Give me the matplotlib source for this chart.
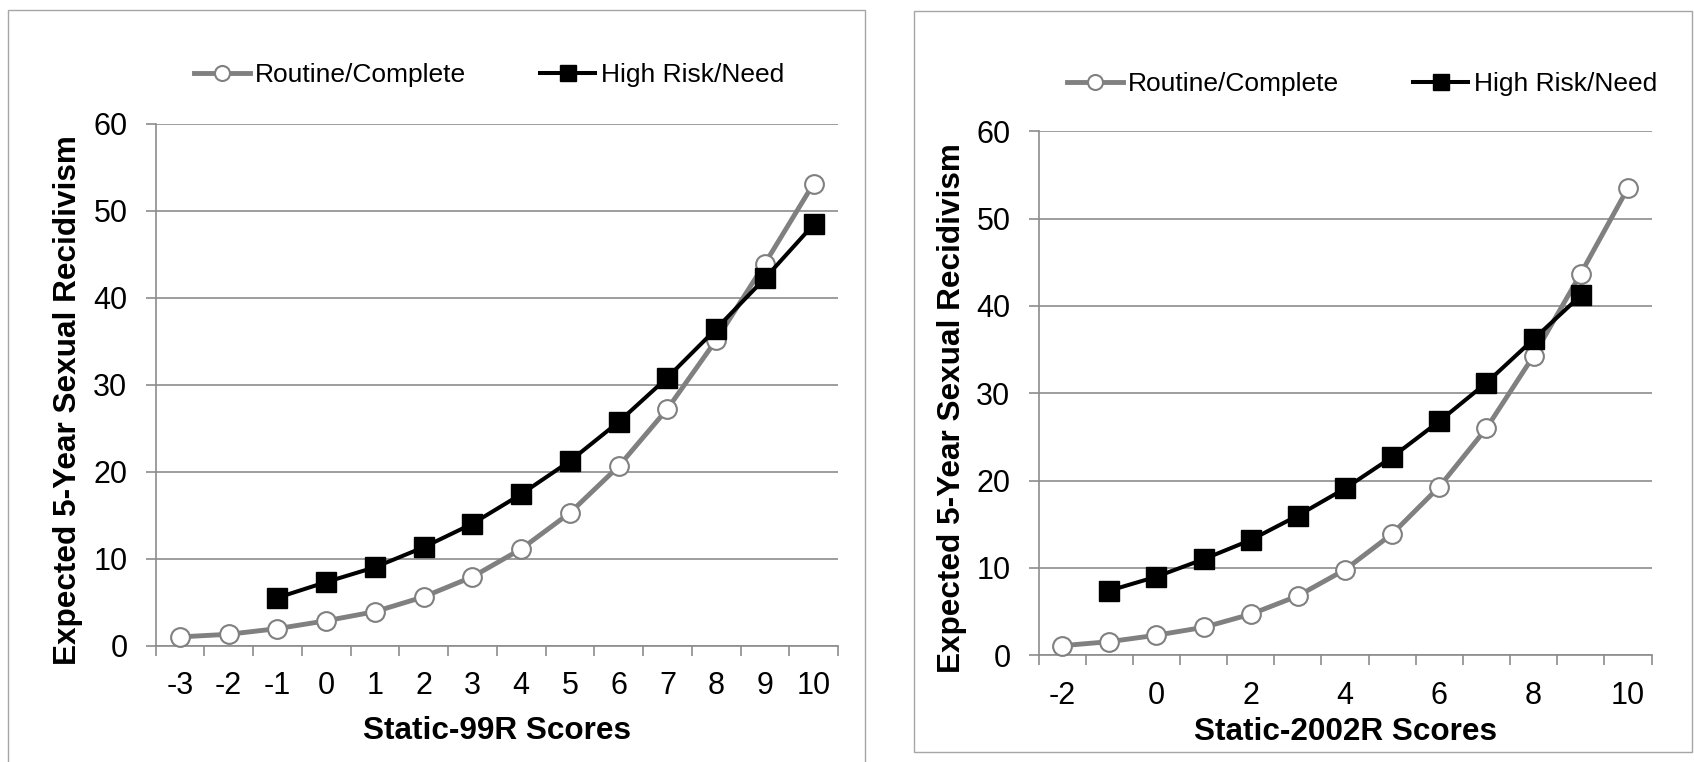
import numpy as np
import matplotlib
matplotlib.use("Agg")
import matplotlib.pyplot as plt
from matplotlib.patches import Rectangle
from matplotlib.ticker import FixedLocator, NullFormatter

plt.rcParams['font.family'] = ['Liberation Sans', 'DejaVu Sans']

# Static-99R panel
s99_scores = list(range(-3, 11))
s99_routine = [1.0, 1.3, 1.95, 2.85, 3.9, 5.6, 7.9, 11.1, 15.25, 20.6, 27.2, 35.1, 43.9, 53.1]
s99_high_scores = list(range(-1, 11))
s99_high = [5.5, 7.3, 9.0, 11.3, 14.0, 17.4, 21.2, 25.7, 30.8, 36.4, 42.2, 48.4]

# Static-2002R panel
s02_scores = list(range(-2, 11))
s02_routine = [1.1, 1.56, 2.3, 3.2, 4.7, 6.8, 9.8, 13.9, 19.3, 26.0, 34.3, 43.7, 53.5]
s02_high_scores = list(range(-1, 10))
s02_high = [7.4, 9.0, 11.0, 13.2, 16.0, 19.1, 22.7, 26.8, 31.2, 36.2, 41.2]

y_ticks = [0, 10, 20, 30, 40, 50, 60]
gray = '#808080'
grid_c = '#8c8c8c'

W, H = 1694, 762
fig = plt.figure(figsize=(W / 100, H / 100), dpi=100)

# panel frames
fig.patches.append(Rectangle((8 / W, -0.02), 857 / W, 1 - 10 / H + 0.02, transform=fig.transFigure,
                             fill=False, edgecolor='#a6a6a6', lw=1))
fig.patches.append(Rectangle((914 / W, 1 - 752 / H), 778 / W, (752 - 11) / H, transform=fig.transFigure,
                             fill=False, edgecolor='#a6a6a6', lw=1))


def px_axes(x0, x1, ytop, ybot):
    return fig.add_axes([x0 / W, 1 - ybot / H, (x1 - x0) / W, (ybot - ytop) / H])


def style(ax, xs, xlabels, xmin, xmax):
    ax.set_xlim(xmin - 0.5, xmax + 0.5)
    ax.set_ylim(0, 60)
    ax.set_yticks(y_ticks)
    ax.yaxis.grid(True, color=grid_c, lw=1.2)
    ax.set_axisbelow(True)
    for s in ['top', 'right']:
        ax.spines[s].set_visible(False)
    for s in ['left', 'bottom']:
        ax.spines[s].set_color(grid_c)
        ax.spines[s].set_linewidth(1.2)
    ax.set_xticks(xs)
    ax.set_xticklabels(xlabels)
    ax.xaxis.set_minor_locator(FixedLocator(np.arange(xmin - 0.5, xmax + 1, 1.0)))
    ax.xaxis.set_minor_formatter(NullFormatter())
    ax.tick_params(axis='x', which='major', length=0, pad=18.5, labelsize=22)
    ax.tick_params(axis='x', which='minor', length=7.2, width=1.2, color=grid_c)
    ax.tick_params(axis='y', length=7.2, width=1.2, color=grid_c, pad=13, labelsize=22)


def draw(ax, xr, yr, xh, yh):
    ax.plot(xr, yr, color=gray, lw=3.5, marker='o', ms=13.5, mfc='white', mec=gray, mew=1.5,
            label='Routine/Complete', clip_on=False, zorder=3)
    ax.plot(xh, yh, color='black', lw=2.9, marker='s', ms=14.2, mfc='black', mec='black',
            label='High Risk/Need', clip_on=False, zorder=4)


leg_kw = dict(loc='center', bbox_transform=fig.transFigure, ncol=2, frameon=False, fontsize=19,
              handlelength=2.1, handletextpad=0.2, columnspacing=2.8, markerscale=0.8)

ax1 = px_axes(155.5, 838, 123.5, 645.6)
draw(ax1, s99_scores, s99_routine, s99_high_scores, s99_high)
style(ax1, s99_scores, [str(v) for v in s99_scores], -3, 10)
ax1.legend(bbox_to_anchor=(489 / W, 1 - 75 / H), **leg_kw)
fig.text(68.3 / W, 1 - 400 / H, 'Expected 5-Year Sexual Recidivism', rotation=90, ha='center',
         va='center', fontsize=22.7, fontweight='bold')
fig.text(496.5 / W, 1 - 731 / H, 'Static-99R Scores', ha='center', va='center',
         fontsize=22.7, fontweight='bold')

ax2 = px_axes(1038.5, 1651.5, 131.3, 655.3)
draw(ax2, s02_scores, s02_routine, s02_high_scores, s02_high)
even = [v for v in s02_scores if v % 2 == 0]
style(ax2, even, [str(v) for v in even], -2, 10)
ax2.legend(bbox_to_anchor=(1362 / W, 1 - 84 / H), **leg_kw)
fig.text(951.7 / W, 1 - 408.5 / H, 'Expected 5-Year Sexual Recidivism', rotation=90, ha='center',
         va='center', fontsize=22.7, fontweight='bold')
fig.text(1345 / W, 1 - 732 / H, 'Static-2002R Scores', ha='center', va='center',
         fontsize=22.7, fontweight='bold')

fig.savefig('out.png', dpi=100)
